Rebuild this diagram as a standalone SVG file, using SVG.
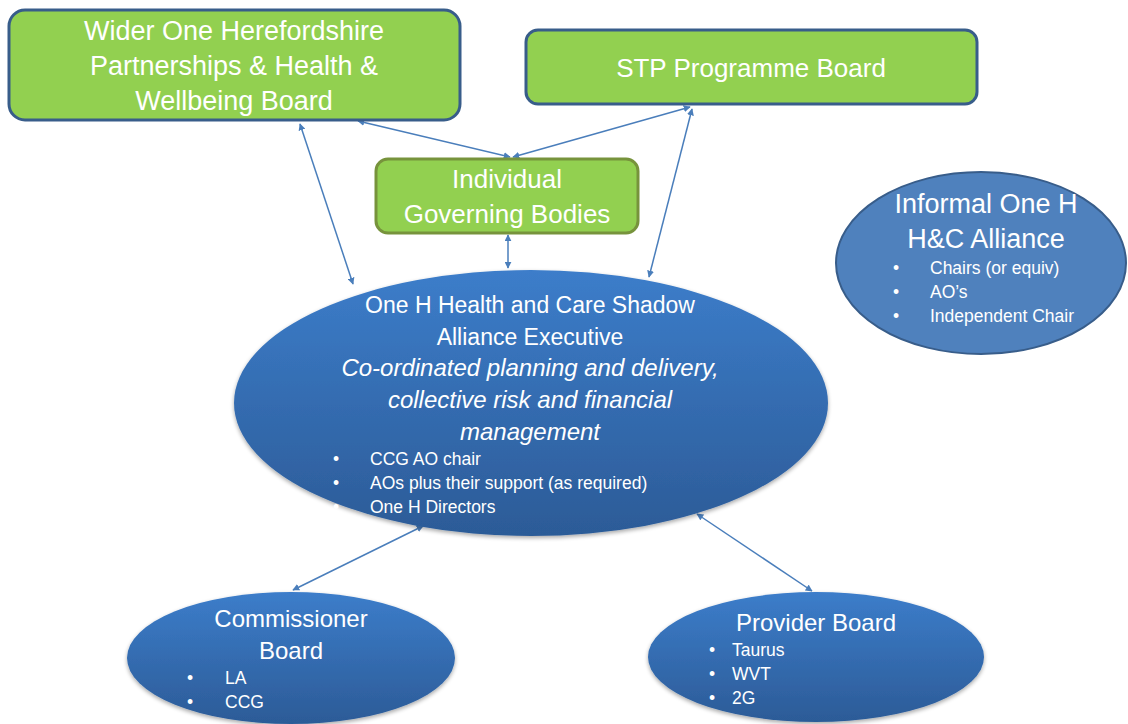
<svg xmlns="http://www.w3.org/2000/svg" width="1128" height="724" viewBox="0 0 1128 724">
<style>
text{font-family:"Liberation Sans",Arial,sans-serif;fill:#fff}
.h27{font-size:27px;text-anchor:middle}
.h26{font-size:26px;text-anchor:middle}
.h24{font-size:24px;text-anchor:middle}
.h23{font-size:23px;text-anchor:middle}
.it{font-size:24px;font-style:italic;text-anchor:middle}
.b{font-size:17.5px}
.box{fill:#92D050;stroke:#385D8A;stroke-width:3}
.box2{fill:#92D050;stroke:#77933C;stroke-width:3}
.ell{fill:url(#g)}
.conn{stroke:#4A7EBB;stroke-width:1.5;fill:none;marker-start:url(#a);marker-end:url(#a)}
</style>
<defs>
<linearGradient id="g" x1="0" y1="0" x2="0" y2="1">
<stop offset="0" stop-color="#3C7DCA"/>
<stop offset="1" stop-color="#2C5B97"/>
</linearGradient>
<filter id="sh" x="-10%" y="-10%" width="120%" height="130%">
<feGaussianBlur in="SourceAlpha" stdDeviation="2"/>
<feOffset dy="2" result="b"/>
<feComponentTransfer><feFuncA type="linear" slope="0.35"/></feComponentTransfer>
<feMerge><feMergeNode/><feMergeNode in="SourceGraphic"/></feMerge>
</filter>
<marker id="a" viewBox="0 0 10 10" refX="9" refY="5" markerWidth="7" markerHeight="7" orient="auto-start-reverse" markerUnits="userSpaceOnUse">
<path d="M0,0 L10,5 L0,10 z" fill="#4A7EBB"/>
</marker>
</defs>

<g id="connectors">
<line class="conn" x1="300" y1="124" x2="353" y2="284"/>
<line class="conn" x1="358" y1="121" x2="510" y2="157"/>
<line class="conn" x1="690" y1="107" x2="513" y2="157"/>
<line class="conn" x1="692" y1="109" x2="649" y2="277"/>
<line class="conn" x1="508" y1="235" x2="508" y2="268"/>
<line class="conn" x1="423" y1="526" x2="293" y2="590"/>
<line class="conn" x1="697" y1="514" x2="812" y2="591"/>
</g>

<g id="wider">
<rect class="box" x="9" y="10" width="451" height="110" rx="16"/>
<text class="h27" x="234" y="40">Wider One Herefordshire</text>
<text class="h27" x="234" y="75">Partnerships &amp; Health &amp;</text>
<text class="h27" x="234" y="110">Wellbeing Board</text>
</g>

<g id="stp">
<rect class="box" x="526" y="30" width="451" height="74" rx="12"/>
<text class="h26" x="751" y="77">STP Programme Board</text>
</g>

<g id="igb">
<rect class="box2" x="376" y="159" width="262" height="74" rx="12"/>
<text class="h26" x="507" y="188">Individual</text>
<text class="h26" x="507" y="223">Governing Bodies</text>
</g>

<g id="informal">
<ellipse cx="981" cy="263" rx="145" ry="91" fill="#4F81BD" stroke="#385D8A" stroke-width="2"/>
<text class="h27" x="986" y="213">Informal One H</text>
<text class="h27" x="986" y="248">H&amp;C Alliance</text>
<text class="b" x="893" y="274">•</text><text class="b" x="930" y="274">Chairs (or equiv)</text>
<text class="b" x="893" y="298">•</text><text class="b" x="930" y="298">AO’s</text>
<text class="b" x="893" y="322">•</text><text class="b" x="930" y="322">Independent Chair</text>
</g>

<g id="alliance">
<ellipse class="ell" cx="531" cy="403" rx="297" ry="133" filter="url(#sh)"/>
<text class="h23" x="530" y="313">One H Health and Care Shadow</text>
<text class="h23" x="530" y="345">Alliance Executive</text>
<text class="it" x="530" y="376">Co-ordinated planning and delivery,</text>
<text class="it" x="530" y="408">collective risk and financial</text>
<text class="it" x="530" y="440">management</text>
<text class="b" x="333" y="465">•</text><text class="b" x="370" y="465">CCG AO chair</text>
<text class="b" x="333" y="489">•</text><text class="b" x="370" y="489">AOs plus their support (as required)</text>
<text class="b" x="333" y="513">•</text><text class="b" x="370" y="513">One H Directors</text>
</g>

<g id="commissioner">
<ellipse class="ell" cx="291" cy="658" rx="164" ry="66" filter="url(#sh)"/>
<text class="h24" x="291" y="627">Commissioner</text>
<text class="h24" x="291" y="659">Board</text>
<text class="b" x="187" y="684">•</text><text class="b" x="225" y="684">LA</text>
<text class="b" x="187" y="708">•</text><text class="b" x="225" y="708">CCG</text>
</g>

<g id="provider">
<ellipse class="ell" cx="816" cy="657" rx="168" ry="65" filter="url(#sh)"/>
<text class="h24" x="816" y="631">Provider Board</text>
<text class="b" x="709" y="656">•</text><text class="b" x="732" y="656">Taurus</text>
<text class="b" x="709" y="680">•</text><text class="b" x="732" y="680">WVT</text>
<text class="b" x="709" y="704">•</text><text class="b" x="732" y="704">2G</text>
</g>
</svg>
